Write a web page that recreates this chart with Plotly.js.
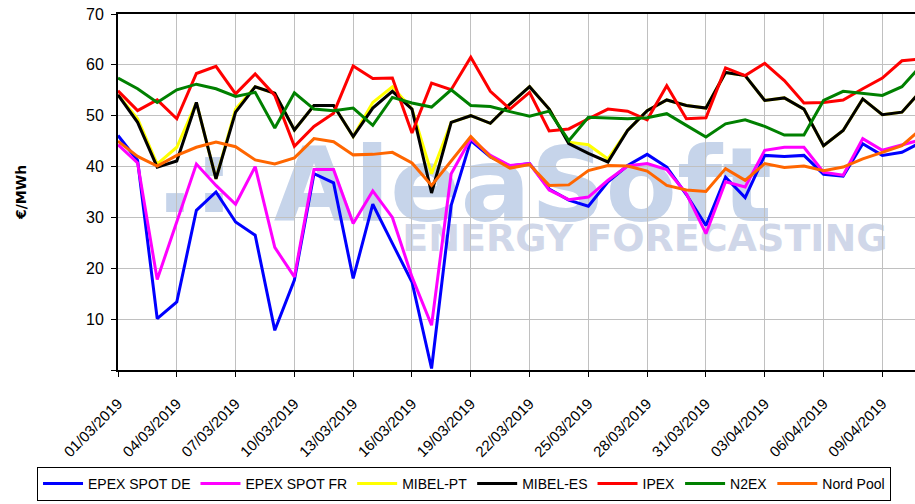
<!DOCTYPE html>
<html>
<head>
<meta charset="utf-8">
<script src="https://cdn.plot.ly/plotly-3.0.1.min.js"></script>
<style>html,body{margin:0;padding:0;background:#fff;}#chart{width:915px;height:504px;}</style>
</head>
<body>
<div id="chart"></div>
<script>
const dates = ['2019-03-01','2019-03-02','2019-03-03','2019-03-04','2019-03-05','2019-03-06','2019-03-07','2019-03-08','2019-03-09','2019-03-10',
'2019-03-11','2019-03-12','2019-03-13','2019-03-14','2019-03-15','2019-03-16','2019-03-17','2019-03-18','2019-03-19','2019-03-20',
'2019-03-21','2019-03-22','2019-03-23','2019-03-24','2019-03-25','2019-03-26','2019-03-27','2019-03-28','2019-03-29','2019-03-30',
'2019-03-31','2019-04-01','2019-04-02','2019-04-03','2019-04-04','2019-04-05','2019-04-06','2019-04-07','2019-04-08','2019-04-09',
'2019-04-10','2019-04-11'];

const epexDE = [46.1,41.2,10.1,13.4,31.4,35.0,29.1,26.5,7.8,17.7,38.6,36.8,18.0,32.6,24.9,17.3,0.3,32.4,45.1,41.9,40.1,40.6,35.6,33.4,32.2,37.0,40.2,42.4,39.9,34.5,28.4,37.9,33.9,42.2,42.0,42.2,38.5,38.1,44.5,42.2,42.8,44.8];
const epexFR = [44.3,40.7,17.8,29.1,40.5,36.3,32.6,40.0,24.1,18.3,39.4,39.4,28.8,35.2,30.0,18.3,8.8,38.6,45.5,42.2,40.2,40.6,35.4,33.5,34.0,37.3,40.1,40.6,39.4,34.7,26.8,37.0,36.0,43.2,43.8,43.8,38.9,38.3,45.5,43.2,44.3,45.3];
const mibelPT = [54.1,49.4,40.5,43.8,52.6,37.6,51.3,55.7,54.4,47.2,52.0,52.0,45.9,52.6,55.7,51.3,38.6,48.7,50.0,48.5,52.3,55.7,51.3,44.8,44.3,41.5,47.1,51.0,53.1,52.0,51.5,58.5,57.9,53.0,53.5,51.3,44.1,47.1,53.3,50.2,50.7,55.0];
const mibelES = [54.1,48.7,39.9,41.1,52.6,37.6,50.7,55.7,54.4,47.2,52.0,52.0,45.9,51.5,54.8,51.3,34.8,48.7,50.0,48.5,52.3,55.7,51.3,44.5,42.6,40.9,47.1,51.0,53.1,52.0,51.5,58.5,57.9,53.0,53.5,51.3,44.1,47.1,53.3,50.2,50.7,55.0];
const ipex = [54.9,51.0,53.1,49.4,58.3,59.7,54.3,58.2,54.0,44.0,47.9,50.5,59.8,57.3,57.4,46.6,56.4,55.1,61.5,54.8,51.3,54.6,47.0,47.4,49.4,51.3,50.9,49.2,55.9,49.4,49.6,59.4,57.9,60.3,56.9,52.5,52.6,53.1,55.3,57.4,60.8,61.2];
const n2ex = [57.4,55.3,52.6,55.1,56.2,55.3,53.8,54.6,47.6,54.5,51.3,51.0,51.5,48.1,53.6,52.5,51.7,55.1,52.0,51.8,50.8,49.9,50.9,45.1,49.7,49.6,49.4,49.6,50.4,48.1,45.8,48.4,49.2,47.9,46.2,46.2,53.0,54.8,54.4,54.0,55.7,60.0];
const nordPool = [45.0,42.0,40.1,42.2,43.8,44.8,43.9,41.3,40.5,41.7,45.5,44.9,42.3,42.4,42.8,40.7,36.3,41.2,45.9,41.9,39.7,40.4,36.3,36.4,39.2,40.2,40.1,39.1,36.3,35.4,35.1,39.6,37.3,40.6,39.8,40.1,39.2,39.9,41.5,42.8,44.1,47.5];

const seriesNames = ['EPEX SPOT DE','EPEX SPOT FR','MIBEL-PT','MIBEL-ES','IPEX','N2EX','Nord Pool'];
const seriesData = [epexDE, epexFR, mibelPT, mibelES, ipex, n2ex, nordPool];
const seriesColors = ['#0000ff','#ff00ff','#ffff00','#000000','#ff0000','#008000','#ff6600'];

const yTickVals = [0,10,20,30,40,50,60,70];
const yTickText = ['','10','20','30','40','50','60','70'];
const yTitle = '€/MWh';
const watermark1 = 'AleaSoft';
const watermarkDots = '.:';
const watermark2 = 'ENERGY FORECASTING';

const traces = seriesNames.map((n, i) => ({
  type: 'scatter', mode: 'lines', name: n, x: dates, y: seriesData[i],
  line: {color: seriesColors[i], width: 3}, hoverinfo: 'skip'
}));

const wmFont = 'DejaVu Sans, Arial';
const layout = {
  width: 915, height: 504,
  margin: {l: 118, r: 0, t: 14, b: 134, pad: 0, autoexpand: false},
  paper_bgcolor: '#ffffff', plot_bgcolor: '#ffffff',
  showlegend: true,
  legend: {orientation: 'h', x: -0.1016, xanchor: 'left', y: -0.368, yanchor: 'bottom',
    bordercolor: '#000', borderwidth: 1, bgcolor: '#fff', traceorder: 'normal', itemwidth: 40,
    font: {family: 'Arial, Liberation Sans', size: 14, color: '#000'}},
  xaxis: {type: 'date', range: ['2019-03-01', '2019-04-10 16:00'], tick0: '2019-03-01', dtick: 259200000,
    tickformat: '%d/%m/%Y', tickangle: -45, showgrid: true, gridcolor: '#c0c0c0', gridwidth: 1,
    showline: true, linecolor: '#000', linewidth: 2, mirror: true, ticks: 'outside', ticklen: 5,
    tickcolor: '#000', tickwidth: 1, zeroline: false, automargin: false, ticklabelstandoff: 12,
    tickfont: {family: 'Arial, Liberation Sans', size: 15, color: '#000'}},
  yaxis: {range: [0, 70], tickmode: 'array', tickvals: yTickVals, ticktext: yTickText,
    showgrid: true, gridcolor: '#c0c0c0', gridwidth: 1, showline: true, linecolor: '#000', linewidth: 2,
    mirror: false, ticks: 'outside', ticklen: 5, tickcolor: '#000', tickwidth: 1, zeroline: false,
    automargin: false, ticklabelstandoff: 4,
    tickfont: {family: 'Arial, Liberation Sans', size: 16, color: '#000'},
    title: {text: yTitle, standoff: 56, font: {family: 'DejaVu Sans, Arial', size: 14, color: '#000', weight: 'bold'}}},
  shapes: [
    {type: 'rect', xref: 'paper', yref: 'paper', x0: 0.208, x1: 0.808, y0: 0.389, y1: 0.689, layer: 'below',
     line: {width: 0}, fillcolor: 'rgba(0,0,0,0)',
     label: {text: watermark1, textposition: 'middle center',
       font: {family: wmFont, size: 104, color: '#c6d4ea', weight: 'bold'}}},
    {type: 'rect', xref: 'paper', yref: 'paper', x0: 0.0, x1: 0.193, y0: 0.459, y1: 0.659, layer: 'below',
     line: {width: 0}, fillcolor: 'rgba(0,0,0,0)',
     label: {text: watermarkDots, textposition: 'middle center',
       font: {family: wmFont, size: 100, color: '#c6d4ea', weight: 'bold'}}},
    {type: 'rect', xref: 'paper', yref: 'paper', x0: 0.36, x1: 0.962, y0: 0.329, y1: 0.429, layer: 'below',
     line: {width: 0}, fillcolor: 'rgba(0,0,0,0)',
     label: {text: watermark2, textposition: 'middle center',
       font: {family: wmFont, size: 38, color: '#d0d7e9', weight: 'bold'}}}
  ]
};

Plotly.newPlot('chart', traces, layout, {staticPlot: true, displayModeBar: false});
</script>
</body>
</html>
